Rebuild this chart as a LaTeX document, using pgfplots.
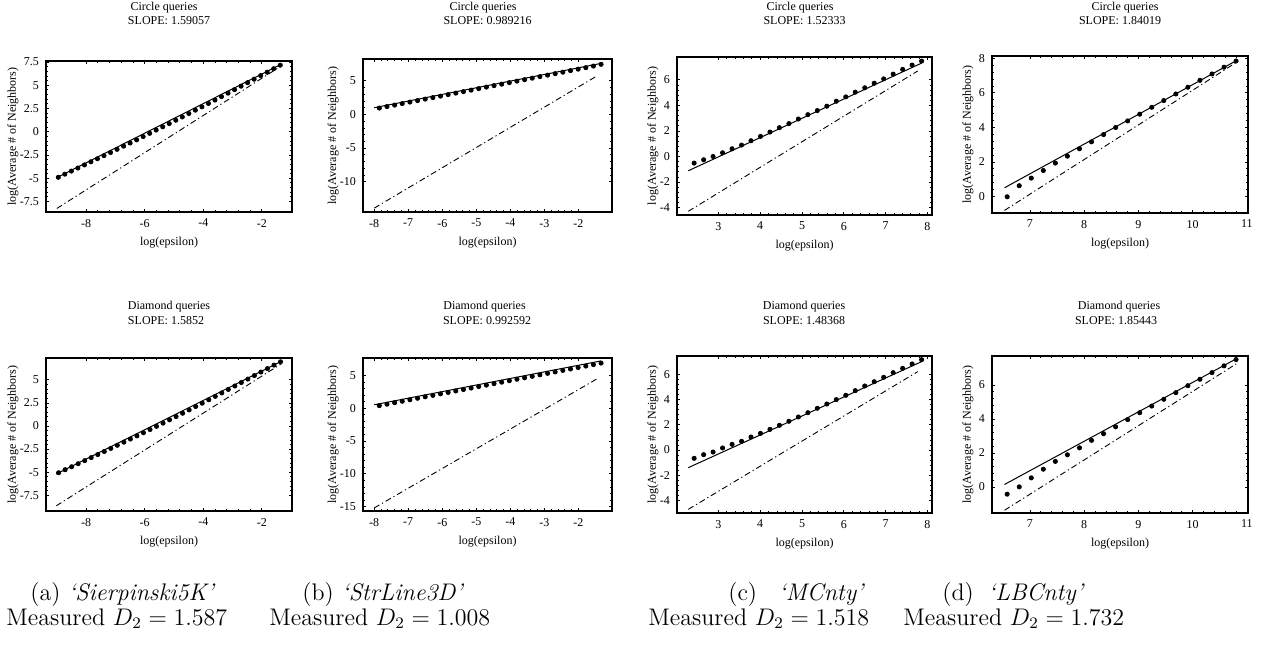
\documentclass[border=0pt]{standalone}
\usepackage{pgfplots}
\pgfplotsset{compat=1.18}
\usepackage{fontspec}
\newfontfamily\tms{Liberation Serif}
\newcommand{\sm}{\tms\fontsize{6}{7}\selectfont}
\pgfplotsset{
  mma/.style={
    scale only axis,
    axis line style={line width=0.6pt},
    tick align=inside,
    major tick length=1.6pt,
    minor tick length=0.9pt,
    every tick/.style={black, line width=0.35pt},
    minor tick num=4,
    tick label style={font=\sm},
    /pgf/number format/assume math mode=true,
    xlabel={log(epsilon)},
    ylabel={log(Average \# of Neighbors)},
    label style={font=\sm},
    xlabel style={at={(axis description cs:0.5,0)}, anchor=center, yshift=-15.5pt},
    clip=false,
  },
  dots/.style={only marks, mark=*, mark size=1.05pt, black},
  fit/.style={black, line width=0.5pt, no marks},
  ref/.style={black, line width=0.45pt, no marks, dash pattern=on 3pt off 1.5pt on 0.6pt off 1.5pt},
}
\begin{document}
\begin{tikzpicture}
\useasboundingbox (0,0) rectangle (631pt,327pt);
% ---------- Panel 1 ----------
\begin{axis}[mma, at={(23pt,221pt)}, anchor=south west, width=123pt, height=75.5pt,
  xmin=-9.37, xmax=-0.97, ymin=-8.64, ymax=7.6,
  xtick={-8,-6,-4,-2}, ytick={-7.5,-5,-2.5,0,2.5,5,7.5},
  ylabel style={at={(axis description cs:-0.134,0.5)}, anchor=center}]
\addplot[ref] coordinates {(-9.0,-8.26) (-1.37,7.0)};
\addplot[fit] coordinates {(-9.0,-4.94) (-1.37,7.20)};
\addplot[dots] coordinates {(-8.950,-4.91) (-8.727,-4.57) (-8.504,-4.24) (-8.281,-3.91) (-8.058,-3.58) (-7.836,-3.24) (-7.613,-2.91) (-7.390,-2.58) (-7.167,-2.24) (-6.944,-1.90) (-6.721,-1.56) (-6.498,-1.22) (-6.275,-0.88) (-6.052,-0.53) (-5.829,-0.18) (-5.607,0.17) (-5.384,0.52) (-5.161,0.87) (-4.938,1.23) (-4.715,1.58) (-4.492,1.95) (-4.269,2.31) (-4.046,2.67) (-3.823,3.03) (-3.600,3.40) (-3.378,3.77) (-3.155,4.14) (-2.932,4.52) (-2.709,4.89) (-2.486,5.27) (-2.263,5.64) (-2.040,6.03) (-1.817,6.39) (-1.594,6.77) (-1.371,7.15)};
\end{axis}
% ---------- Panel 2 ----------
\begin{axis}[mma, at={(181.5pt,221pt)}, anchor=south west, width=124.5pt, height=76.5pt,
  xmin=-8.33, xmax=-1.01, ymin=-14.5, ymax=8.24,
  xtick={-8,-7,-6,-5,-4,-3,-2}, ytick={-10,-5,0,5},
  ylabel style={at={(axis description cs:-0.12,0.5)}, anchor=center}]
\addplot[ref] coordinates {(-8.0,-13.92) (-1.46,5.70)};
\addplot[fit] coordinates {(-8.0,1.0) (-1.33,7.59)};
\addplot[dots] coordinates {(-7.850,0.95) (-7.625,1.17) (-7.400,1.39) (-7.176,1.61) (-6.951,1.84) (-6.726,2.06) (-6.501,2.28) (-6.276,2.50) (-6.052,2.72) (-5.827,2.95) (-5.602,3.17) (-5.377,3.39) (-5.152,3.61) (-4.928,3.84) (-4.703,4.06) (-4.478,4.28) (-4.253,4.50) (-4.028,4.73) (-3.804,4.95) (-3.579,5.17) (-3.354,5.39) (-3.129,5.62) (-2.904,5.84) (-2.680,6.06) (-2.455,6.28) (-2.230,6.51) (-2.005,6.73) (-1.780,6.95) (-1.556,7.19) (-1.331,7.45)};
\end{axis}
% ---------- Panel 3 ----------
\begin{axis}[mma, at={(338.5pt,219.5pt)}, anchor=south west, width=127.5pt, height=79pt,
  xmin=2.01, xmax=8.11, ymin=-4.58, ymax=7.78,
  xtick={3,4,5,6,7,8}, ytick={-4,-2,0,2,4,6},
  ylabel style={at={(axis description cs:-0.094,0.5)}, anchor=center}]
\addplot[ref] coordinates {(2.28,-4.29) (7.77,6.69)};
\addplot[fit] coordinates {(2.28,-1.12) (7.86,7.30)};
\addplot[dots] coordinates {(2.420,-0.52) (2.647,-0.26) (2.873,0.00) (3.100,0.29) (3.327,0.60) (3.554,0.89) (3.780,1.23) (4.007,1.57) (4.234,1.91) (4.460,2.25) (4.687,2.57) (4.914,2.93) (5.141,3.27) (5.367,3.59) (5.594,3.93) (5.821,4.32) (6.047,4.66) (6.274,5.03) (6.501,5.37) (6.728,5.73) (6.954,6.07) (7.181,6.44) (7.408,6.81) (7.634,7.15) (7.861,7.46)};
\end{axis}
% ---------- Panel 4 ----------
\begin{axis}[mma, at={(496pt,220.5pt)}, anchor=south west, width=128pt, height=78.5pt,
  xmin=6.30, xmax=11.02, ymin=-0.96, ymax=8.13,
  xtick={7,8,9,10,11}, ytick={0,2,4,6,8},
  ylabel style={at={(axis description cs:-0.094,0.5)}, anchor=center}]
\addplot[ref] coordinates {(6.53,-0.81) (10.80,7.75)};
\addplot[fit] coordinates {(6.53,0.50) (10.80,7.85)};
\addplot[dots] coordinates {(6.580,-0.02) (6.802,0.62) (7.024,1.06) (7.246,1.50) (7.468,1.93) (7.690,2.33) (7.913,2.76) (8.135,3.16) (8.357,3.58) (8.579,3.99) (8.801,4.37) (9.023,4.76) (9.245,5.16) (9.467,5.55) (9.689,5.93) (9.912,6.32) (10.134,6.72) (10.356,7.09) (10.578,7.48) (10.800,7.84)};
\end{axis}
% ---------- Panel 5 ----------
\begin{axis}[mma, at={(23pt,71.5pt)}, anchor=south west, width=123pt, height=76.5pt,
  xmin=-9.37, xmax=-0.97, ymin=-9.2, ymax=7.36,
  xtick={-8,-6,-4,-2}, ytick={-7.5,-5,-2.5,0,2.5,5},
  ylabel style={at={(axis description cs:-0.134,0.5)}, anchor=center}]
\addplot[ref] coordinates {(-9.02,-8.64) (-1.33,6.74)};
\addplot[fit] coordinates {(-9.02,-5.19) (-1.33,7.0)};
\addplot[dots] coordinates {(-8.940,-5.06) (-8.717,-4.73) (-8.494,-4.41) (-8.271,-4.08) (-8.048,-3.75) (-7.826,-3.42) (-7.603,-3.09) (-7.380,-2.76) (-7.157,-2.42) (-6.934,-2.09) (-6.711,-1.75) (-6.488,-1.41) (-6.265,-1.07) (-6.042,-0.73) (-5.819,-0.38) (-5.597,-0.04) (-5.374,0.31) (-5.151,0.67) (-4.928,1.02) (-4.705,1.38) (-4.482,1.74) (-4.259,2.11) (-4.036,2.47) (-3.813,2.84) (-3.590,3.21) (-3.368,3.58) (-3.145,3.96) (-2.922,4.33) (-2.699,4.71) (-2.476,5.08) (-2.253,5.46) (-2.030,5.84) (-1.807,6.22) (-1.584,6.59) (-1.361,6.95)};
\end{axis}
% ---------- Panel 6 ----------
\begin{axis}[mma, at={(181.5pt,71.5pt)}, anchor=south west, width=124.5pt, height=76.5pt,
  xmin=-8.33, xmax=-1.01, ymin=-15.66, ymax=7.63,
  xtick={-8,-7,-6,-5,-4,-3,-2}, ytick={-15,-10,-5,0,5},
  ylabel style={at={(axis description cs:-0.12,0.5)}, anchor=center}]
\addplot[ref] coordinates {(-8.0,-15.19) (-1.43,4.52)};
\addplot[fit] coordinates {(-8.0,0.51) (-1.33,7.19)};
\addplot[dots] coordinates {(-7.850,0.38) (-7.625,0.60) (-7.400,0.83) (-7.176,1.05) (-6.951,1.27) (-6.726,1.50) (-6.501,1.72) (-6.276,1.94) (-6.052,2.17) (-5.827,2.39) (-5.602,2.61) (-5.377,2.83) (-5.152,3.06) (-4.928,3.28) (-4.703,3.50) (-4.478,3.73) (-4.253,3.95) (-4.028,4.17) (-3.804,4.40) (-3.579,4.62) (-3.354,4.84) (-3.129,5.07) (-2.904,5.29) (-2.680,5.51) (-2.455,5.74) (-2.230,5.96) (-2.005,6.18) (-1.780,6.40) (-1.556,6.63) (-1.331,6.85)};
\end{axis}
% ---------- Panel 7 ----------
\begin{axis}[mma, at={(338.5pt,70.5pt)}, anchor=south west, width=127.5pt, height=78.5pt,
  xmin=2.01, xmax=8.11, ymin=-5.0, ymax=7.46,
  xtick={3,4,5,6,7,8}, ytick={-4,-2,0,2,4,6},
  ylabel style={at={(axis description cs:-0.094,0.5)}, anchor=center}]
\addplot[ref] coordinates {(2.28,-4.71) (7.77,6.22)};
\addplot[fit] coordinates {(2.28,-1.40) (7.86,7.01)};
\addplot[dots] coordinates {(2.420,-0.66) (2.647,-0.37) (2.873,-0.16) (3.100,0.16) (3.327,0.45) (3.554,0.69) (3.780,1.03) (4.007,1.32) (4.234,1.64) (4.460,1.96) (4.687,2.28) (4.914,2.62) (5.141,2.96) (5.367,3.31) (5.594,3.65) (5.821,4.00) (6.047,4.34) (6.274,4.71) (6.501,5.08) (6.728,5.42) (6.954,5.77) (7.181,6.14) (7.408,6.48) (7.634,6.83) (7.861,7.17)};
\end{axis}
% ---------- Panel 8 ----------
\begin{axis}[mma, at={(496pt,70.5pt)}, anchor=south west, width=128pt, height=78.5pt,
  xmin=6.30, xmax=11.02, ymin=-1.54, ymax=7.71,
  xtick={7,8,9,10,11}, ytick={0,2,4,6},
  ylabel style={at={(axis description cs:-0.094,0.5)}, anchor=center}]
\addplot[ref] coordinates {(6.53,-1.38) (10.80,7.24)};
\addplot[fit] coordinates {(6.53,0.14) (10.80,7.54)};
\addplot[dots] coordinates {(6.580,-0.43) (6.802,0.00) (7.024,0.53) (7.246,1.04) (7.468,1.50) (7.690,1.89) (7.913,2.30) (8.135,2.74) (8.357,3.13) (8.579,3.54) (8.801,3.96) (9.023,4.37) (9.245,4.76) (9.467,5.16) (9.689,5.55) (9.912,5.96) (10.134,6.34) (10.356,6.73) (10.578,7.13) (10.800,7.50)};
\end{axis}
% ---------- titles ----------
\begin{scope}[every node/.style={font=\sm, inner sep=0pt, anchor=center}]
\node at (82pt,323.25pt) {Circle queries};
\node at (84.5pt,316.5pt) {SLOPE: 1.59057};
\node at (241.5pt,323.25pt) {Circle queries};
\node at (243.75pt,316.5pt) {SLOPE: 0.989216};
\node at (400pt,323.25pt) {Circle queries};
\node at (402.25pt,316.5pt) {SLOPE: 1.52333};
\node at (562.5pt,323.25pt) {Circle queries};
\node at (560pt,316.5pt) {SLOPE: 1.84019};
\node at (84.5pt,173.5pt) {Diamond queries};
\node at (83pt,166.5pt) {SLOPE: 1.5852};
\node at (242.25pt,173.5pt) {Diamond queries};
\node at (243.5pt,166.5pt) {SLOPE: 0.992592};
\node at (402pt,173.5pt) {Diamond queries};
\node at (402pt,166.5pt) {SLOPE: 1.48368};
\node at (559.5pt,173.5pt) {Diamond queries};
\node at (558pt,166.5pt) {SLOPE: 1.85443};
\end{scope}
% ---------- captions ----------
\begin{scope}[every node/.style={font=\fontsize{12}{14}\selectfont, inner sep=0pt, anchor=base west}]
\node at (15pt,27pt) {(a) \textit{`Sierpinski5K'}};
\node at (3pt,14.5pt) {Measured $D_2 = 1.587$};
\node at (151pt,27pt) {(b) \textit{`StrLine3D'}};
\node at (134.5pt,14.5pt) {Measured $D_2 = 1.008$};
\node at (364pt,27pt) {(c)\hspace{0.9em}\textit{`MCnty'}};
\node at (324pt,14.5pt) {Measured $D_2 = 1.518$};
\node at (471pt,27pt) {(d)\hspace{0.6em}\textit{`LBCnty'}};
\node at (451.5pt,14.5pt) {Measured $D_2 = 1.732$};
\end{scope}
\end{tikzpicture}
\end{document}
